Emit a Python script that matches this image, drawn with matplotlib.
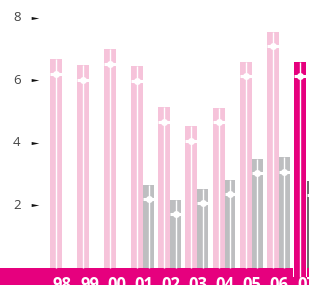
import numpy as np
import matplotlib.pyplot as plt
from matplotlib.path import Path

years = ['98', '99', '00', '01', '02', '03', '04', '05', '06', '07']
pink_top = [6.68, 6.49, 7.0, 6.45, 5.14, 4.54, 5.11, 6.58, 7.54, 6.58]
pink_mark = [6.2, 6.0, 6.52, 5.98, 4.67, 4.06, 4.66, 6.13, 7.09, 6.13]
gray_top = [np.nan, np.nan, np.nan, 2.65, 2.17, 2.52, 2.81, 3.48, 3.55, 2.78]
gray_mark = [np.nan, np.nan, np.nan, 2.2, 1.72, 2.07, 2.36, 3.03, 3.07, 2.33]
yticks = [2, 4, 6, 8]

LIGHT_PINK = '#f6c3da'
MAGENTA = '#e6007e'
GRAY = '#bdbec0'
DARK_GRAY = '#6d6e70'

fig = plt.figure(figsize=(3.09, 2.85), dpi=100)
ax = fig.add_axes([0, 0, 1, 1])
ax.set_xlim(-2.066, 9.336)
ax.set_ylim(-0.543, 8.562)
ax.axis('off')

pw = 0.443  # pink bar width
gw = 0.40   # gray bar width
x = np.arange(len(years))
last = len(years) - 1

# bottom band
ax.axhspan(-0.6, 0, color=MAGENTA, lw=0, zorder=1)


def split_bar(xc, w, top, mark, color, bottom=0.0):
    ax.bar(xc, top - bottom, w, bottom=bottom, color=color, lw=0, zorder=2)
    ax.plot([xc, xc], [bottom, top], color='white', lw=1.0, zorder=3,
            solid_capstyle='butt')
    ax.plot([xc - w / 2, xc + w / 2], [mark, mark], color='white', lw=2.2,
            zorder=3, solid_capstyle='butt')
    ax.plot(xc, mark, 'o', color='white', ms=5, mew=0, zorder=4)


for i in x:
    pc = MAGENTA if i == last else LIGHT_PINK
    gc = DARK_GRAY if i == last else GRAY
    if i == last:
        # current year bar runs into the band, edged in white
        ax.bar(i, 0.3, pw + 0.05, bottom=-0.3, color='white', lw=0, zorder=2)
        split_bar(i, pw, pink_top[i], pink_mark[i], pc, bottom=-0.3)
    else:
        split_bar(i, pw, pink_top[i], pink_mark[i], pc)
    if not np.isnan(gray_top[i]):
        split_bar(i + pw / 2 + gw / 2 + (0.03 if i == last else 0),
                  gw, gray_top[i], gray_mark[i], gc)

# y ticks: number + small arrow
arrow = Path([(-1, -0.4), (1, 0), (-1, 0.4), (-1, -0.4)],
             [Path.MOVETO, Path.LINETO, Path.LINETO, Path.CLOSEPOLY])
for t in yticks:
    ax.text(-1.45, t, str(t), ha='center', va='center', fontsize=9.5,
            color='#444444', family='Open Sans')
    ax.plot(-0.78, t, marker=arrow, ms=5.5, color='#111111', mew=0)

# year labels on the band (cut at the bottom edge, as in the source)
for i, yr in enumerate(years):
    ax.text(i + 0.24, -0.27, yr, ha='center', va='top', fontsize=12,
            color='white', fontweight='bold', family='Open Sans')

fig.savefig('out.png', dpi=100)
